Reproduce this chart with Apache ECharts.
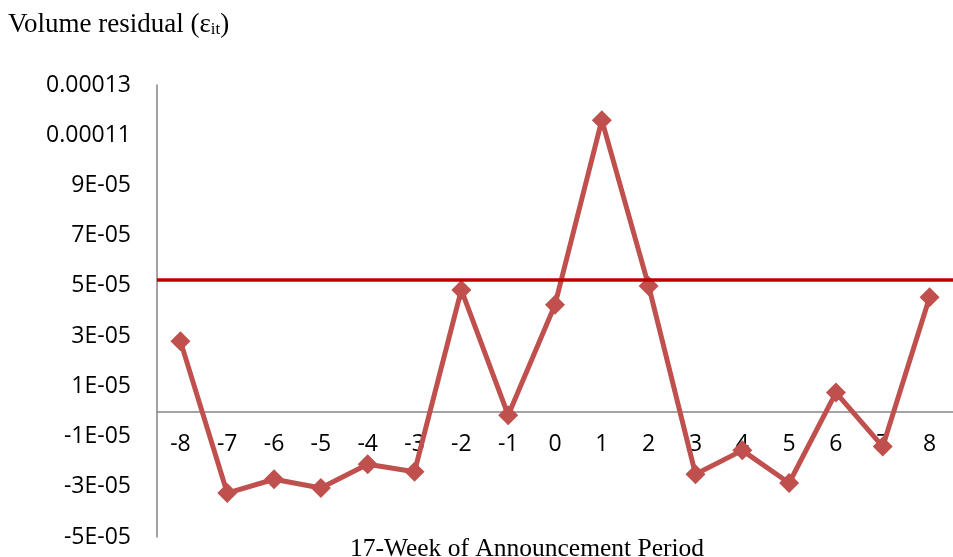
<!DOCTYPE html>
<html><head><meta charset="utf-8">
<script src="https://cdn.jsdelivr.net/npm/echarts@6/dist/echarts.min.js"></script>
<style>html,body{margin:0;padding:0;background:#fff}#c{width:953px;height:557px}</style>
</head><body><div id="c"></div>
<script>
var categories = ['-8','-7','-6','-5','-4','-3','-2','-1','0','1','2','3','4','5','6','7','8'];
var residuals = [2.8e-5,-3.25e-5,-2.7e-5,-3.05e-5,-2.1e-5,-2.4e-5,4.84e-5,-0.15e-5,4.25e-5,11.6e-5,5.0e-5,-2.5e-5,-1.55e-5,-2.85e-5,0.75e-5,-1.4e-5,4.55e-5];
var threshold = 5.25e-5;
var yMin = -5e-5, yMax = 13e-5, yStep = 2e-5;

function fmt(v){
  var n = Math.round(v*1e5);
  if (Math.abs(n) >= 10) return (n/1e5).toFixed(5);
  return n + 'E-05';
}
var gridTop = 85, gridBottom = 20, H = 557;
var plotH = H - gridTop - gridBottom;
var zeroOffset = -plotH * (0 - yMin) / (yMax - yMin);

var chart = echarts.init(document.getElementById('c'));
chart.setOption({
  animation:false,
  backgroundColor:'#fff',
  title:[{text:'{a|Volume residual (ε}{s|it}{a|)}',left:8,top:-2,padding:0,
          textStyle:{fontWeight:'normal',rich:{a:{fontFamily:'Liberation Serif',fontSize:27,fontWeight:'normal',color:'#000',lineHeight:40,verticalAlign:'bottom'},
                           s:{fontFamily:'Liberation Serif',fontSize:17,fontWeight:'normal',color:'#000',lineHeight:33,verticalAlign:'bottom'}}}},
         {text:'17-Week of Announcement Period',left:522,textAlign:'center',top:531,textStyle:{fontFamily:'Liberation Serif',fontSize:25.5,fontWeight:'normal',color:'#000'}}],
  grid:{left:157,right:0,top:gridTop,bottom:gridBottom,outerBoundsMode:'none',containLabel:false},
  xAxis:{type:'category',data:categories,boundaryGap:true,offset:zeroOffset,
    axisLine:{onZero:false,lineStyle:{color:'#868686',width:1.5}},axisTick:{show:false},
    axisLabel:{margin:22,fontFamily:'Open Sans',fontSize:23,color:'#000'}},
  yAxis:{type:'value',min:yMin,max:yMax,interval:yStep,
    axisLine:{show:true,lineStyle:{color:'#868686',width:1.5}},axisTick:{show:false},splitLine:{show:false},
    axisLabel:{margin:26,fontFamily:'Open Sans',fontSize:23,color:'#000',formatter:fmt}},
  series:[{type:'line',data:residuals,symbol:'diamond',symbolSize:20,
    lineStyle:{color:'#C0504D',width:5},itemStyle:{color:'#C0504D'},
    markLine:{silent:true,symbol:'none',precision:12,label:{show:false},lineStyle:{color:'#C00000',width:3.5,type:'solid'},data:[{yAxis:threshold}]}}]
});
</script></body></html>
